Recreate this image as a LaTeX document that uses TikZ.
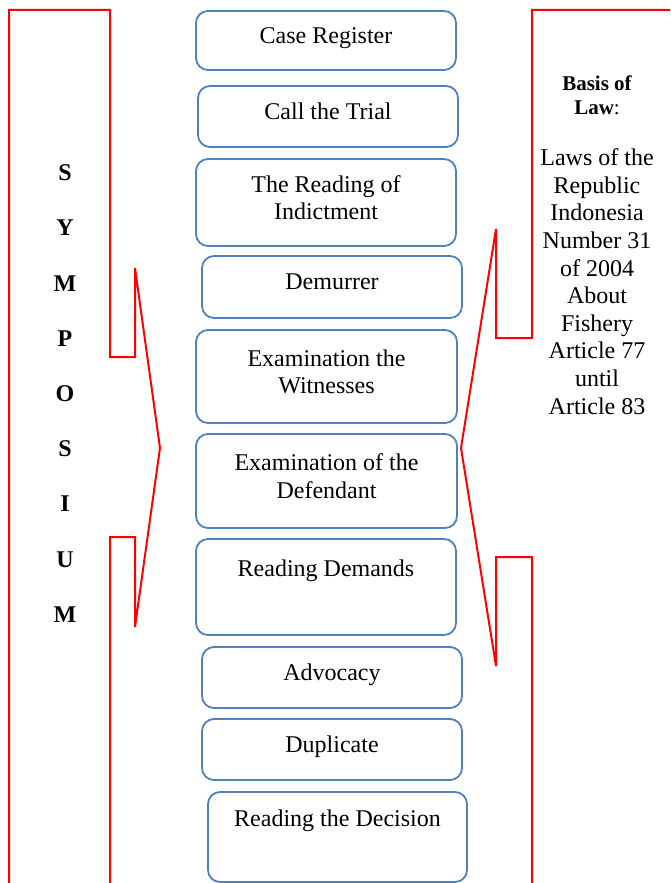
\documentclass[tikz,border=0pt]{standalone}
\usepackage{fontspec}
\setmainfont{Liberation Serif}
\definecolor{boxblue}{RGB}{79,129,189}
\begin{document}
\begin{tikzpicture}[x=0.5pt, y=-0.5pt,
  stage node/.style={draw=boxblue, line width=0.9pt, rounded corners=6pt, align=center, inner sep=0pt, text depth=5pt, minimum width=130pt},
  callout/.style={draw=red, line width=1pt}]
        \tikzstyle{every node}=[font=\fontsize{12}{13.8}\selectfont]
        \useasboundingbox (0,0) rectangle (670,883);

          % the two callouts
          \draw[callout] (9,883) -- (9,10) -- (110,10) -- (110,357) -- (135,357) -- (135,268)
            -- (160,448) -- (135,627) -- (135,537) -- (110,537) -- (110,883);
          \draw[callout] (670,10) -- (532,10) -- (532,338) -- (496,338) -- (496,229)
            -- (461,448) -- (496,666) -- (496,557) -- (532,557) -- (532,883);

          \node (sym) [font=\bfseries\fontsize{12}{27.6}\selectfont, align=center] at (65,393.5) {S\\Y\\M\\P\\O\\S\\I\\U\\M};

          \node[stage node, minimum height=29.5pt] (register) at (326,40.5) {Case Register};
          \node[stage node, minimum height=30.5pt] (call) at (328,116.5) {Call the Trial};
          \node[stage node, minimum height=43.5pt] (indictment) at (326,202.5) {The Reading of\\Indictment};
          \node[stage node, minimum height=31pt] (demurrer) at (332,287) {Demurrer};
          \node[stage node, minimum height=46.5pt, minimum width=130.5pt] (witnesses) at (326.5,376.5) {Examination the\\Witnesses};
          \node[stage node, minimum height=47pt, minimum width=130.5pt] (defendant) at (326.5,481) {Examination of the\\Defendant};
          \node[stage node, minimum height=48pt] (demands) at (326,587) {Reading Demands\\~};
          \node[stage node, minimum height=30.5pt] (advocacy) at (332,677.5) {Advocacy};
          \node[stage node, minimum height=30.5pt] (duplicate) at (332,749.5) {Duplicate};
          \node[stage node, minimum height=45pt, minimum width=129.5pt] (decision) at (337.5,837) {Reading the Decision\\~};

          \node (lawhead) [font=\bfseries\fontsize{10.5}{12}\selectfont, align=center] at (597,95.5) {Basis of\\Law\textmd{:}};
          \node (lawtext) [align=center] at (597,281.5) {Laws of the\\Republic\\Indonesia\\Number 31\\of 2004\\About\\Fishery\\Article 77\\until\\Article 83};

        \end{tikzpicture}
\end{document}
